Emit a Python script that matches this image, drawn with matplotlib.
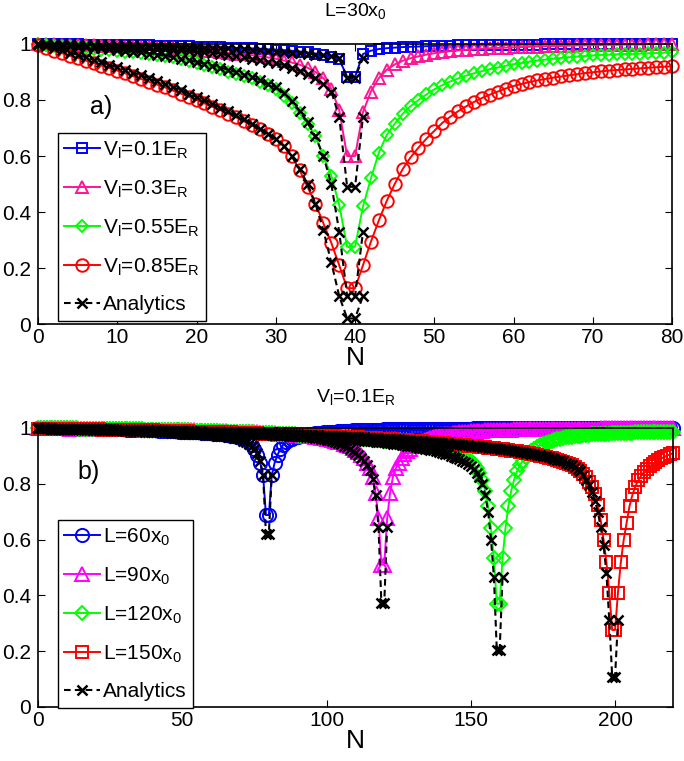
import numpy as np
import matplotlib
matplotlib.use("Agg")
import matplotlib.pyplot as plt

plt.rcParams['font.family'] = ['Liberation Sans', 'DejaVu Sans']
plt.rcParams['mathtext.default'] = 'regular'

# ---------------- panel a) : L = 30 x0, N = 0..80 ----------------
top_v01 = [
    1.000, 1.000, 1.000, 0.999, 0.999, 0.999, 0.998, 0.998, 0.998, 0.997,
    0.997, 0.996, 0.996, 0.995, 0.995, 0.994, 0.994, 0.993, 0.992, 0.992,
    0.991, 0.990, 0.989, 0.988, 0.987, 0.986, 0.985, 0.984, 0.983, 0.981,
    0.980, 0.978, 0.976, 0.973, 0.970, 0.966, 0.961, 0.955, 0.946, 0.883,
    0.883, 0.964, 0.976, 0.982, 0.985, 0.987, 0.989, 0.990, 0.991, 0.992,
    0.993, 0.994, 0.994, 0.995, 0.995, 0.996, 0.996, 0.997, 0.997, 0.997,
    0.998, 0.998, 0.998, 0.998, 0.999, 0.999, 0.999, 0.999, 0.999, 0.999,
    1.000, 1.000, 1.000, 1.000, 1.000, 1.000, 1.000, 1.000, 1.000, 1.000, 1.000]
top_v03 = [
    1.000, 0.999, 0.999, 0.998, 0.997, 0.997, 0.996, 0.995, 0.994, 0.993,
    0.992, 0.991, 0.990, 0.989, 0.988, 0.987, 0.985, 0.984, 0.982, 0.980,
    0.978, 0.976, 0.974, 0.972, 0.969, 0.966, 0.963, 0.960, 0.956, 0.952,
    0.947, 0.941, 0.934, 0.926, 0.915, 0.900, 0.878, 0.840, 0.764, 0.600,
    0.600, 0.757, 0.830, 0.878, 0.908, 0.927, 0.940, 0.949, 0.956, 0.962,
    0.967, 0.971, 0.974, 0.977, 0.979, 0.981, 0.983, 0.985, 0.986, 0.987,
    0.988, 0.989, 0.990, 0.991, 0.992, 0.993, 0.993, 0.994, 0.995, 0.995,
    0.996, 0.996, 0.997, 0.997, 0.998, 0.998, 0.998, 0.999, 0.999, 1.000, 1.000]
top_v055 = [
    1.000, 0.997, 0.994, 0.991, 0.988, 0.986, 0.984, 0.982, 0.980, 0.978,
    0.976, 0.973, 0.971, 0.968, 0.965, 0.961, 0.957, 0.952, 0.946, 0.940,
    0.933, 0.926, 0.918, 0.910, 0.901, 0.893, 0.885, 0.877, 0.866, 0.853,
    0.838, 0.816, 0.790, 0.752, 0.716, 0.670, 0.600, 0.530, 0.425, 0.276,
    0.276, 0.420, 0.520, 0.612, 0.675, 0.715, 0.750, 0.778, 0.800, 0.820,
    0.838, 0.853, 0.866, 0.877, 0.887, 0.895, 0.903, 0.910, 0.916, 0.922,
    0.928, 0.932, 0.937, 0.941, 0.944, 0.947, 0.950, 0.953, 0.955, 0.957,
    0.959, 0.961, 0.962, 0.963, 0.964, 0.965, 0.966, 0.967, 0.968, 0.969, 0.970]
top_v085 = [
    0.995, 0.985, 0.976, 0.967, 0.958, 0.950, 0.941, 0.932, 0.923, 0.914,
    0.905, 0.895, 0.885, 0.875, 0.865, 0.855, 0.845, 0.834, 0.823, 0.812,
    0.800, 0.788, 0.776, 0.764, 0.751, 0.738, 0.724, 0.710, 0.695, 0.680,
    0.660, 0.635, 0.600, 0.550, 0.490, 0.430, 0.360, 0.290, 0.210, 0.128,
    0.128, 0.210, 0.294, 0.370, 0.440, 0.500, 0.553, 0.595, 0.630, 0.662,
    0.690, 0.718, 0.740, 0.760, 0.777, 0.793, 0.807, 0.819, 0.830, 0.841,
    0.850, 0.857, 0.864, 0.870, 0.875, 0.880, 0.884, 0.888, 0.892, 0.896,
    0.899, 0.902, 0.905, 0.907, 0.909, 0.911, 0.913, 0.915, 0.917, 0.919, 0.920]

# analytics, N = 0..41
top_an01 = [
    1.000, 1.000, 0.999, 0.999, 0.999, 0.998, 0.998, 0.997, 0.997, 0.996,
    0.996, 0.995, 0.995, 0.994, 0.993, 0.993, 0.992, 0.991, 0.990, 0.989,
    0.988, 0.987, 0.986, 0.985, 0.984, 0.982, 0.981, 0.979, 0.977, 0.975,
    0.973, 0.971, 0.969, 0.967, 0.965, 0.962, 0.960, 0.957, 0.950, 0.880,
    0.880, 0.950]
top_an03 = [
    1.000, 0.999, 0.998, 0.998, 0.997, 0.996, 0.995, 0.994, 0.993, 0.992,
    0.991, 0.989, 0.988, 0.986, 0.985, 0.983, 0.981, 0.979, 0.977, 0.975,
    0.972, 0.970, 0.967, 0.964, 0.960, 0.957, 0.953, 0.948, 0.943, 0.937,
    0.931, 0.924, 0.915, 0.905, 0.893, 0.877, 0.857, 0.830, 0.740, 0.490,
    0.490, 0.740]
top_an055 = [
    1.000, 0.998, 0.996, 0.994, 0.992, 0.990, 0.988, 0.986, 0.984, 0.981,
    0.979, 0.976, 0.973, 0.970, 0.966, 0.962, 0.958, 0.953, 0.948, 0.942,
    0.936, 0.930, 0.923, 0.916, 0.908, 0.900, 0.891, 0.881, 0.870, 0.858,
    0.845, 0.825, 0.795, 0.760, 0.720, 0.670, 0.600, 0.500, 0.330, 0.100,
    0.100, 0.330]
top_an085 = [
    1.000, 0.993, 0.985, 0.977, 0.969, 0.961, 0.953, 0.944, 0.935, 0.926,
    0.917, 0.908, 0.898, 0.888, 0.878, 0.868, 0.857, 0.846, 0.835, 0.823,
    0.811, 0.799, 0.786, 0.773, 0.760, 0.746, 0.731, 0.715, 0.698, 0.680,
    0.660, 0.637, 0.600, 0.555, 0.500, 0.430, 0.335, 0.220, 0.100, 0.020,
    0.020, 0.100]

# ---------------- panel b) : V_l = 0.1 E_R, N = 0..220 ----------------
bot_L60 = [
    1.000, 1.000, 1.000, 1.000, 1.000, 0.999, 0.999, 0.999, 0.999, 0.999,
    0.999, 0.999, 0.998, 0.998, 0.998, 0.998, 0.998, 0.998, 0.997, 0.997,
    0.997, 0.997, 0.997, 0.996, 0.996, 0.996, 0.996, 0.995, 0.995, 0.995,
    0.995, 0.994, 0.994, 0.994, 0.993, 0.993, 0.993, 0.992, 0.992, 0.992,
    0.991, 0.991, 0.990, 0.990, 0.990, 0.989, 0.989, 0.988, 0.988, 0.987,
    0.987, 0.986, 0.986, 0.985, 0.985, 0.984, 0.984, 0.983, 0.982, 0.982,
    0.981, 0.980, 0.979, 0.978, 0.977, 0.976, 0.975, 0.973, 0.971, 0.969,
    0.966, 0.962, 0.957, 0.950, 0.940, 0.925, 0.903, 0.875, 0.830, 0.688,
    0.688, 0.830, 0.875, 0.903, 0.925, 0.940, 0.950, 0.957, 0.962, 0.966,
    0.969, 0.972, 0.974, 0.976, 0.978, 0.979, 0.981, 0.982, 0.983, 0.984,
    0.985, 0.986, 0.987, 0.987, 0.988, 0.989, 0.989, 0.990, 0.990, 0.991,
    0.991, 0.992, 0.992, 0.992, 0.993, 0.993, 0.993, 0.994, 0.994, 0.994,
    0.995, 0.995, 0.995, 0.995, 0.996, 0.996, 0.996, 0.996, 0.996, 0.997,
    0.997, 0.997, 0.997, 0.997, 0.997, 0.997, 0.998, 0.998, 0.998, 0.998,
    0.998, 0.998, 0.998, 0.998, 0.998, 0.998, 0.998, 0.998, 0.998, 0.998,
    0.998, 0.999, 0.999, 0.999, 0.999, 0.999, 0.999, 0.999, 0.999, 0.999,
    0.999, 0.999, 0.999, 0.999, 0.999, 0.999, 0.999, 0.999, 0.999, 0.999,
    0.999, 0.999, 0.999, 0.999, 0.999, 0.999, 0.999, 0.999, 0.999, 0.999,
    0.999, 0.999, 0.999, 0.999, 0.999, 0.999, 0.999, 0.999, 0.999, 0.999,
    0.999, 0.999, 0.999, 0.999, 0.999, 1.000, 1.000, 1.000, 1.000, 1.000,
    1.000, 1.000, 1.000, 1.000, 1.000, 1.000, 1.000, 1.000, 1.000, 1.000,
    1.000, 1.000, 1.000, 1.000, 1.000, 1.000, 1.000, 1.000, 1.000, 1.000, 1.000]
bot_L90 = [
    1.000, 1.000, 1.000, 1.000, 0.999, 0.999, 0.999, 0.999, 0.999, 0.999,
    0.999, 0.998, 0.998, 0.998, 0.998, 0.998, 0.998, 0.998, 0.997, 0.997,
    0.997, 0.997, 0.997, 0.997, 0.997, 0.996, 0.996, 0.996, 0.996, 0.996,
    0.996, 0.995, 0.995, 0.995, 0.995, 0.995, 0.995, 0.994, 0.994, 0.994,
    0.994, 0.994, 0.993, 0.993, 0.993, 0.993, 0.993, 0.992, 0.992, 0.992,
    0.992, 0.991, 0.991, 0.991, 0.991, 0.990, 0.990, 0.990, 0.990, 0.989,
    0.989, 0.989, 0.988, 0.988, 0.988, 0.988, 0.987, 0.987, 0.987, 0.986,
    0.986, 0.986, 0.985, 0.985, 0.985, 0.984, 0.984, 0.983, 0.983, 0.982,
    0.982, 0.981, 0.981, 0.980, 0.980, 0.979, 0.978, 0.978, 0.977, 0.976,
    0.975, 0.974, 0.973, 0.972, 0.971, 0.970, 0.968, 0.967, 0.965, 0.963,
    0.961, 0.959, 0.957, 0.954, 0.951, 0.948, 0.944, 0.940, 0.935, 0.929,
    0.922, 0.914, 0.904, 0.892, 0.876, 0.855, 0.825, 0.766, 0.676, 0.510,
    0.510, 0.676, 0.766, 0.825, 0.855, 0.876, 0.892, 0.905, 0.916, 0.926,
    0.934, 0.941, 0.947, 0.952, 0.957, 0.961, 0.964, 0.967, 0.970, 0.972,
    0.975, 0.977, 0.978, 0.980, 0.981, 0.983, 0.984, 0.985, 0.986, 0.987,
    0.988, 0.988, 0.989, 0.990, 0.990, 0.991, 0.991, 0.992, 0.992, 0.993,
    0.993, 0.993, 0.994, 0.994, 0.994, 0.995, 0.995, 0.995, 0.995, 0.996,
    0.996, 0.996, 0.996, 0.996, 0.997, 0.997, 0.997, 0.997, 0.997, 0.997,
    0.998, 0.998, 0.998, 0.998, 0.998, 0.998, 0.998, 0.998, 0.998, 0.998,
    0.998, 0.998, 0.998, 0.998, 0.998, 0.999, 0.999, 0.999, 0.999, 0.999,
    0.999, 0.999, 0.999, 0.999, 0.999, 0.999, 0.999, 0.999, 0.999, 0.999,
    0.999, 0.999, 0.999, 0.999, 0.999, 1.000, 1.000, 1.000, 1.000, 1.000, 1.000]
bot_L120 = [
    1.000, 1.000, 1.000, 1.000, 1.000, 1.000, 0.999, 0.999, 0.999, 0.999,
    0.999, 0.999, 0.999, 0.999, 0.998, 0.998, 0.998, 0.998, 0.998, 0.998,
    0.998, 0.997, 0.997, 0.997, 0.997, 0.997, 0.997, 0.996, 0.996, 0.996,
    0.996, 0.996, 0.995, 0.995, 0.995, 0.995, 0.995, 0.994, 0.994, 0.994,
    0.994, 0.993, 0.993, 0.993, 0.993, 0.992, 0.992, 0.992, 0.992, 0.991,
    0.991, 0.991, 0.991, 0.990, 0.990, 0.990, 0.989, 0.989, 0.989, 0.989,
    0.988, 0.988, 0.988, 0.987, 0.987, 0.987, 0.986, 0.986, 0.986, 0.985,
    0.985, 0.985, 0.984, 0.984, 0.984, 0.983, 0.983, 0.982, 0.982, 0.982,
    0.981, 0.981, 0.980, 0.980, 0.979, 0.979, 0.978, 0.978, 0.977, 0.977,
    0.976, 0.976, 0.975, 0.975, 0.974, 0.974, 0.973, 0.973, 0.972, 0.972,
    0.971, 0.970, 0.970, 0.969, 0.968, 0.968, 0.967, 0.966, 0.966, 0.965,
    0.964, 0.963, 0.963, 0.962, 0.961, 0.960, 0.959, 0.958, 0.957, 0.956,
    0.955, 0.954, 0.953, 0.952, 0.951, 0.950, 0.949, 0.947, 0.946, 0.945,
    0.943, 0.942, 0.940, 0.939, 0.937, 0.935, 0.933, 0.931, 0.929, 0.927,
    0.924, 0.922, 0.919, 0.916, 0.912, 0.908, 0.904, 0.899, 0.893, 0.886,
    0.880, 0.870, 0.857, 0.840, 0.815, 0.775, 0.720, 0.640, 0.533, 0.370,
    0.370, 0.533, 0.640, 0.720, 0.775, 0.815, 0.845, 0.866, 0.883, 0.897,
    0.908, 0.917, 0.925, 0.932, 0.938, 0.943, 0.947, 0.951, 0.954, 0.957,
    0.960, 0.962, 0.964, 0.966, 0.968, 0.969, 0.971, 0.972, 0.973, 0.974,
    0.975, 0.976, 0.977, 0.977, 0.978, 0.979, 0.979, 0.980, 0.980, 0.981,
    0.981, 0.982, 0.982, 0.982, 0.983, 0.983, 0.983, 0.984, 0.984, 0.984,
    0.984, 0.985, 0.985, 0.985, 0.985, 0.986, 0.986, 0.986, 0.986, 0.986, 0.987]
bot_L150 = [
    0.998, 0.998, 0.998, 0.998, 0.998, 0.997, 0.997, 0.997, 0.997, 0.997,
    0.997, 0.996, 0.996, 0.996, 0.996, 0.996, 0.996, 0.995, 0.995, 0.995,
    0.995, 0.995, 0.994, 0.994, 0.994, 0.994, 0.994, 0.993, 0.993, 0.993,
    0.993, 0.993, 0.992, 0.992, 0.992, 0.992, 0.992, 0.991, 0.991, 0.991,
    0.991, 0.990, 0.990, 0.990, 0.990, 0.989, 0.989, 0.989, 0.989, 0.988,
    0.988, 0.988, 0.988, 0.987, 0.987, 0.987, 0.987, 0.986, 0.986, 0.986,
    0.986, 0.985, 0.985, 0.985, 0.984, 0.984, 0.984, 0.984, 0.983, 0.983,
    0.983, 0.982, 0.982, 0.982, 0.981, 0.981, 0.981, 0.980, 0.980, 0.980,
    0.979, 0.979, 0.979, 0.978, 0.978, 0.978, 0.977, 0.977, 0.976, 0.976,
    0.976, 0.975, 0.975, 0.974, 0.974, 0.974, 0.973, 0.973, 0.972, 0.972,
    0.971, 0.971, 0.970, 0.970, 0.969, 0.969, 0.968, 0.968, 0.967, 0.967,
    0.966, 0.966, 0.965, 0.965, 0.964, 0.964, 0.963, 0.963, 0.962, 0.961,
    0.961, 0.960, 0.960, 0.959, 0.958, 0.958, 0.957, 0.956, 0.956, 0.955,
    0.954, 0.953, 0.953, 0.952, 0.951, 0.950, 0.949, 0.948, 0.948, 0.947,
    0.946, 0.945, 0.944, 0.943, 0.942, 0.941, 0.940, 0.939, 0.938, 0.937,
    0.936, 0.935, 0.934, 0.933, 0.932, 0.931, 0.929, 0.928, 0.927, 0.926,
    0.924, 0.923, 0.922, 0.920, 0.919, 0.917, 0.916, 0.914, 0.913, 0.911,
    0.909, 0.907, 0.905, 0.903, 0.901, 0.899, 0.897, 0.894, 0.892, 0.889,
    0.886, 0.883, 0.879, 0.875, 0.871, 0.866, 0.860, 0.853, 0.845, 0.835,
    0.823, 0.808, 0.788, 0.762, 0.725, 0.670, 0.600, 0.520, 0.410, 0.276,
    0.276, 0.410, 0.520, 0.600, 0.660, 0.720, 0.760, 0.790, 0.812, 0.828,
    0.842, 0.853, 0.863, 0.871, 0.878, 0.885, 0.891, 0.896, 0.901, 0.905, 0.909]

bot_an60 = [
    0.999, 0.999, 0.999, 0.999, 0.998, 0.998, 0.998, 0.998, 0.997, 0.997,
    0.997, 0.997, 0.996, 0.996, 0.996, 0.996, 0.995, 0.995, 0.995, 0.994,
    0.994, 0.994, 0.993, 0.993, 0.993, 0.992, 0.992, 0.992, 0.991, 0.991,
    0.990, 0.990, 0.990, 0.989, 0.989, 0.988, 0.988, 0.987, 0.987, 0.986,
    0.986, 0.986, 0.985, 0.985, 0.984, 0.984, 0.983, 0.983, 0.982, 0.982,
    0.981, 0.980, 0.980, 0.979, 0.979, 0.978, 0.978, 0.977, 0.976, 0.976,
    0.975, 0.974, 0.973, 0.972, 0.971, 0.970, 0.969, 0.967, 0.965, 0.963,
    0.960, 0.955, 0.950, 0.944, 0.936, 0.925, 0.910, 0.882, 0.830, 0.620,
    0.620, 0.830]
bot_an90 = [
    0.999, 0.999, 0.999, 0.999, 0.998, 0.998, 0.998, 0.998, 0.998, 0.998,
    0.997, 0.997, 0.997, 0.997, 0.997, 0.996, 0.996, 0.996, 0.996, 0.996,
    0.995, 0.995, 0.995, 0.995, 0.995, 0.994, 0.994, 0.994, 0.994, 0.994,
    0.993, 0.993, 0.993, 0.993, 0.993, 0.992, 0.992, 0.992, 0.992, 0.991,
    0.991, 0.991, 0.991, 0.990, 0.990, 0.990, 0.990, 0.989, 0.989, 0.989,
    0.988, 0.988, 0.988, 0.988, 0.987, 0.987, 0.987, 0.986, 0.986, 0.986,
    0.985, 0.985, 0.985, 0.984, 0.984, 0.984, 0.983, 0.983, 0.982, 0.982,
    0.982, 0.981, 0.981, 0.980, 0.980, 0.979, 0.979, 0.978, 0.978, 0.977,
    0.977, 0.976, 0.976, 0.975, 0.975, 0.974, 0.974, 0.973, 0.973, 0.972,
    0.972, 0.971, 0.970, 0.969, 0.968, 0.967, 0.965, 0.964, 0.962, 0.960,
    0.958, 0.956, 0.953, 0.950, 0.946, 0.942, 0.937, 0.932, 0.926, 0.919,
    0.911, 0.903, 0.893, 0.881, 0.866, 0.848, 0.818, 0.760, 0.646, 0.372,
    0.372, 0.646]
bot_an120 = [
    0.999, 0.999, 0.999, 0.999, 0.999, 0.998, 0.998, 0.998, 0.998, 0.998,
    0.998, 0.997, 0.997, 0.997, 0.997, 0.997, 0.996, 0.996, 0.996, 0.996,
    0.996, 0.995, 0.995, 0.995, 0.995, 0.995, 0.994, 0.994, 0.994, 0.994,
    0.994, 0.993, 0.993, 0.993, 0.993, 0.992, 0.992, 0.992, 0.992, 0.991,
    0.991, 0.991, 0.991, 0.990, 0.990, 0.990, 0.989, 0.989, 0.989, 0.989,
    0.988, 0.988, 0.988, 0.987, 0.987, 0.987, 0.986, 0.986, 0.986, 0.985,
    0.985, 0.985, 0.984, 0.984, 0.984, 0.983, 0.983, 0.983, 0.982, 0.982,
    0.981, 0.981, 0.981, 0.980, 0.980, 0.979, 0.979, 0.978, 0.978, 0.977,
    0.977, 0.976, 0.976, 0.975, 0.975, 0.974, 0.974, 0.973, 0.973, 0.972,
    0.972, 0.971, 0.971, 0.970, 0.970, 0.969, 0.969, 0.968, 0.967, 0.967,
    0.966, 0.965, 0.965, 0.964, 0.963, 0.962, 0.962, 0.961, 0.960, 0.959,
    0.958, 0.957, 0.956, 0.955, 0.954, 0.953, 0.952, 0.951, 0.950, 0.949,
    0.948, 0.947, 0.946, 0.944, 0.943, 0.942, 0.940, 0.939, 0.937, 0.936,
    0.934, 0.932, 0.930, 0.928, 0.926, 0.924, 0.922, 0.920, 0.917, 0.914,
    0.911, 0.908, 0.905, 0.901, 0.897, 0.893, 0.888, 0.883, 0.877, 0.870,
    0.862, 0.852, 0.840, 0.824, 0.800, 0.760, 0.700, 0.600, 0.466, 0.204,
    0.204, 0.466]
bot_an150 = [
    0.999, 0.999, 0.999, 0.999, 0.999, 0.998, 0.998, 0.998, 0.998, 0.998,
    0.998, 0.997, 0.997, 0.997, 0.997, 0.997, 0.997, 0.996, 0.996, 0.996,
    0.996, 0.996, 0.995, 0.995, 0.995, 0.995, 0.995, 0.994, 0.994, 0.994,
    0.994, 0.994, 0.993, 0.993, 0.993, 0.993, 0.993, 0.992, 0.992, 0.992,
    0.992, 0.991, 0.991, 0.991, 0.991, 0.990, 0.990, 0.990, 0.990, 0.989,
    0.989, 0.989, 0.989, 0.988, 0.988, 0.988, 0.988, 0.987, 0.987, 0.987,
    0.987, 0.986, 0.986, 0.986, 0.985, 0.985, 0.985, 0.985, 0.984, 0.984,
    0.984, 0.983, 0.983, 0.983, 0.982, 0.982, 0.982, 0.981, 0.981, 0.981,
    0.980, 0.980, 0.980, 0.979, 0.979, 0.979, 0.978, 0.978, 0.977, 0.977,
    0.977, 0.976, 0.976, 0.975, 0.975, 0.975, 0.974, 0.974, 0.973, 0.973,
    0.972, 0.972, 0.971, 0.971, 0.970, 0.970, 0.969, 0.969, 0.968, 0.968,
    0.967, 0.967, 0.966, 0.966, 0.965, 0.965, 0.964, 0.964, 0.963, 0.962,
    0.962, 0.961, 0.961, 0.960, 0.959, 0.959, 0.958, 0.957, 0.957, 0.956,
    0.955, 0.954, 0.954, 0.953, 0.952, 0.951, 0.950, 0.949, 0.949, 0.948,
    0.947, 0.946, 0.945, 0.944, 0.943, 0.942, 0.941, 0.940, 0.939, 0.938,
    0.937, 0.936, 0.935, 0.934, 0.933, 0.932, 0.930, 0.929, 0.928, 0.927,
    0.925, 0.924, 0.923, 0.921, 0.920, 0.918, 0.917, 0.915, 0.914, 0.912,
    0.910, 0.908, 0.906, 0.904, 0.902, 0.900, 0.898, 0.895, 0.893, 0.890,
    0.887, 0.884, 0.880, 0.876, 0.872, 0.867, 0.861, 0.854, 0.846, 0.832,
    0.815, 0.795, 0.770, 0.740, 0.700, 0.645, 0.580, 0.480, 0.310, 0.109,
    0.109, 0.310]

labels_a = [r'V$_l$=0.1E$_R$', r'V$_l$=0.3E$_R$', r'V$_l$=0.55E$_R$', r'V$_l$=0.85E$_R$', 'Analytics']
labels_b = [r'L=60x$_0$', r'L=90x$_0$', r'L=120x$_0$', r'L=150x$_0$', 'Analytics']
yticks = [0, 0.2, 0.4, 0.6, 0.8, 1]
ytick_labels = ['0', '0.2', '0.4', '0.6', '0.8', '1']

fig = plt.figure(figsize=(6.84, 7.61), dpi=100)
ax1 = fig.add_axes([0.0556, 0.5742, 0.927, 0.368])
ax2 = fig.add_axes([0.0556, 0.0710, 0.928, 0.3666])

lw = 1.4
mew = 1.4

def numeric(ax, y, color, marker, ms, label):
    n = np.arange(len(y))
    ax.plot(n, y, '-', color=color, marker=marker, ms=ms, mfc='none', mec=color,
            mew=mew, lw=lw, label=label, clip_on=False)

def analytic(ax, y, label=None):
    n = np.arange(len(y))
    ax.plot(n, y, '--', color='k', marker='x', ms=6.5, mew=1.8, lw=1.5,
            dashes=(3.2, 2.0), label=label, clip_on=False)

# panel a
numeric(ax1, top_v01, '#0000ff', 's', 7.5, labels_a[0])
numeric(ax1, top_v03, '#ff1493', '^', 9, labels_a[1])
numeric(ax1, top_v055, '#00ff00', 'D', 6.5, labels_a[2])
numeric(ax1, top_v085, '#ff0000', 'o', 9, labels_a[3])
analytic(ax1, top_an01, labels_a[4])
analytic(ax1, top_an03)
analytic(ax1, top_an055)
analytic(ax1, top_an085)

# panel b
numeric(ax2, bot_L60, '#0000ff', 'o', 9.5, labels_b[0])
numeric(ax2, bot_L90, '#ff00ff', '^', 9.5, labels_b[1])
numeric(ax2, bot_L120, '#00ff00', 'D', 7, labels_b[2])
numeric(ax2, bot_L150, '#ff0000', 's', 8, labels_b[3])
analytic(ax2, bot_an60, labels_b[4])
analytic(ax2, bot_an90)
analytic(ax2, bot_an120)
analytic(ax2, bot_an150)

for ax, xmax, xt in [(ax1, 80, np.arange(0, 81, 10)), (ax2, 220, np.arange(0, 201, 50))]:
    ax.set_xlim(0, xmax)
    ax.set_ylim(0, 1)
    ax.set_xticks(xt)
    ax.set_yticks(yticks)
    ax.set_yticklabels(ytick_labels)
    ax.tick_params(direction='in', top=True, right=True, length=5, width=0.8,
                   labelsize=15, pad=3)
    ax.tick_params(axis='y', pad=5)
    for sp in ax.spines.values():
        sp.set_linewidth(1.2)
    ax.set_xlabel('N', fontsize=19, labelpad=-1)

ax1.set_title(r'L=30x$_0$', fontsize=14, pad=20)
ax2.set_title(r'V$_l$=0.1E$_R$', fontsize=14, pad=19)
ax1.text(0.10, 0.775, 'a)', transform=ax1.transAxes, fontsize=18, ha='center', va='center')
ax2.text(0.080, 0.842, 'b)', transform=ax2.transAxes, fontsize=18, ha='center', va='center')

for ax, anchor in [(ax1, (0.0315, 0.682)), (ax2, (0.0315, 0.670))]:
    leg = ax.legend(loc='upper left', bbox_to_anchor=anchor, borderaxespad=0,
                    fontsize=15, fancybox=False, edgecolor='k', framealpha=1,
                    handlelength=1.7, handletextpad=0.15, labelspacing=0.85,
                    borderpad=0.3)
    leg.get_frame().set_linewidth(1.0)

fig.savefig('out.png', dpi=100)
